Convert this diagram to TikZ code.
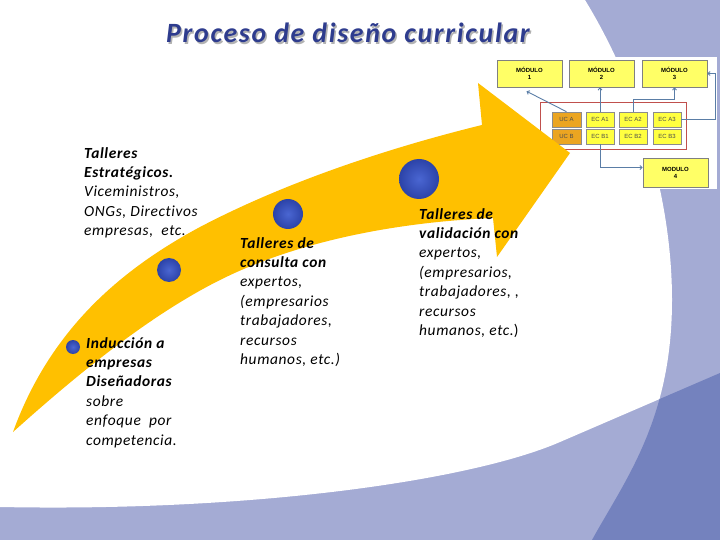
\documentclass[tikz,border=0pt]{standalone}
\usepackage{fontspec}
\setmainfont{Carlito}
\newfontfamily\bodyf{Carlito}[LetterSpace=4,Ligatures=CommonOff]
\newfontfamily\titlef{Carlito}[LetterSpace=6,Ligatures=CommonOff]
\newfontfamily\arialf{Liberation Sans}
\usetikzlibrary{arrows.meta,shadows}
\definecolor{lightpur}{HTML}{A4ABD4}
\definecolor{darkpur}{HTML}{7482BE}
\definecolor{arrowyel}{HTML}{FFC000}
\definecolor{dotin}{HTML}{4A66D2}
\definecolor{dotout}{HTML}{2C43A8}
\definecolor{titleblue}{HTML}{2E3C8E}
\definecolor{modyel}{HTML}{FFFF66}
\definecolor{ecyel}{HTML}{FFFF40}
\definecolor{ucorange}{HTML}{EBA521}
\definecolor{linkblue}{HTML}{5A7DA6}
\definecolor{redframe}{HTML}{C0504D}
\begin{document}
\begin{tikzpicture}[x=1bp,y=-1bp,
  txt/.style={anchor=north west, inner sep=0pt, align=left,
    font=\bodyf\itshape\fontsize{15.5}{19.5}\selectfont},
  dotnode/.style={circle, inner sep=0pt, draw=none, inner color=dotin, outer color=dotout},
  modbox/.style={draw=black!50, fill=modyel, line width=0.6pt, minimum width=65bp,
    minimum height=27bp, inner sep=0pt, align=center,
    font=\arialf\bfseries\fontsize{6}{7}\selectfont,
    drop shadow={shadow xshift=1.2pt, shadow yshift=-1.2pt, fill=black!45, opacity=1}},
  ecbox/.style={draw=black!45, fill=ecyel, line width=0.6pt, minimum width=28bp,
    minimum height=15bp, inner sep=0pt, text=black!70,
    font=\arialf\fontsize{6}{7}\selectfont},
  ucbox/.style={ecbox, fill=ucorange, minimum width=29bp},
  link/.style={draw=linkblue, line width=0.9pt, -{Straight Barb[length=2.2pt,width=4pt]}},
  titlefont/.style={font=\titlef\bfseries\itshape\fontsize{28}{30}\selectfont}
]
\useasboundingbox (0,0) rectangle (720,540);
% background
\fill[lightpur] (0,0) rectangle (720,540);
\begin{scope}
  \clip (0,0) -- (585,0) .. controls (640,90) and (672,200) .. (672,300)
        .. controls (672,420) and (625,480) .. (592,540) -- (0,540) -- cycle;
  \fill[white] (0,0) -- (720,0) -- (720,373) -- (560,442)
        .. controls (470,481) and (250,512) .. (0,507) -- cycle;
\end{scope}
\begin{scope}
  \clip (585,0) .. controls (640,90) and (672,200) .. (672,300)
        .. controls (672,420) and (625,480) .. (592,540) -- (720,540) -- (720,0) -- cycle;
  \fill[darkpur] (720,373) -- (400,511) -- (400,540) -- (720,540) -- cycle;
\end{scope}
% module diagram
\fill[white] (490,57) rectangle (717,189);
\node[modbox] (m1) at (529.5,73.5) {MÓDULO\\1};
\node[modbox] (m2) at (601.5,73.5) {MÓDULO\\2};
\node[modbox] (m3) at (674.5,73.5) {MÓDULO\\3};
\node[modbox, minimum height=29bp] (m4) at (675.5,172.5) {MODULO\\4};
\node[draw=redframe, line width=1pt, minimum width=146bp, minimum height=46bp, inner sep=0pt] (frame) at (613,126) {};
\node[ucbox] (uca) at (566.5,119.5) {UC A};
\node[ucbox] (ucb) at (566.5,136.5) {UC B};
\node[ecbox] (eca1) at (600,119.5) {EC A1};
\node[ecbox] (ecb1) at (600,136.5) {EC B1};
\node[ecbox] (eca2) at (633,119.5) {EC A2};
\node[ecbox] (ecb2) at (633,136.5) {EC B2};
\node[ecbox] (eca3) at (667,119.5) {EC A3};
\node[ecbox] (ecb3) at (667,136.5) {EC B3};
\draw[link] (uca.north) -- ([xshift=-3pt,yshift=-4pt]m1.south);
\draw[link] (eca1.north) -- (eca1.north |- m2.south);
\draw[link] (eca2.north) -- ++(0,-12) -| (m3.south);
\draw[link] (eca3.east) -- ++(34,0) |- (m3.east);
\draw[link] (ecb1.south) |- ([yshift=5pt]m4.west);
% yellow arrow
\fill[arrowyel] (13,432) .. controls (50,330) and (120,270) .. (200,227)
   .. controls (280,185) and (380,150) .. (482,125) -- (478,83) -- (570,153)
   -- (497,257) -- (493,218) .. controls (400,222) and (300,240) .. (220,280)
   .. controls (140,320) and (60,390) .. (13,432) -- cycle;
% dots
\node[dotnode, minimum size=14bp] (d1) at (73,347) {};
\node[dotnode, minimum size=24bp] (d2) at (169,270) {};
\node[dotnode, minimum size=30bp] (d3) at (288,214) {};
\node[dotnode, minimum size=40bp] (d4) at (419,179) {};
% texts
\node[txt] (t1) at (84,147) {{\bfseries Talleres}\\{\bfseries Estratégicos.}\\{Viceministros,}\\{ONGs, Directivos}\\{empresas,~ etc.}};
\node[txt] (t2) at (86,337) {{\bfseries Inducción a}\\{\bfseries empresas}\\{\bfseries Diseñadoras}\\{sobre}\\{enfoque~ por}\\{competencia.}};
\node[txt] (t3) at (240,237) {{\bfseries Talleres de}\\{\bfseries consulta con}\\{expertos,}\\{(empresarios}\\{trabajadores,}\\{recursos}\\{humanos, etc.)}};
\node[txt] (t4) at (419,208) {{\bfseries Talleres de}\\{\bfseries validación con}\\{expertos,}\\{(empresarios,}\\{trabajadores, ,}\\{recursos}\\{humanos, etc.{\upshape )}}};
% title
\node[titlefont, text=black!30] (tshadow) at (349.5,34.5) {Proceso de diseño curricular};
\node[titlefont, text=titleblue] (title) at (348,33) {Proceso de diseño curricular};
\end{tikzpicture}
\end{document}
